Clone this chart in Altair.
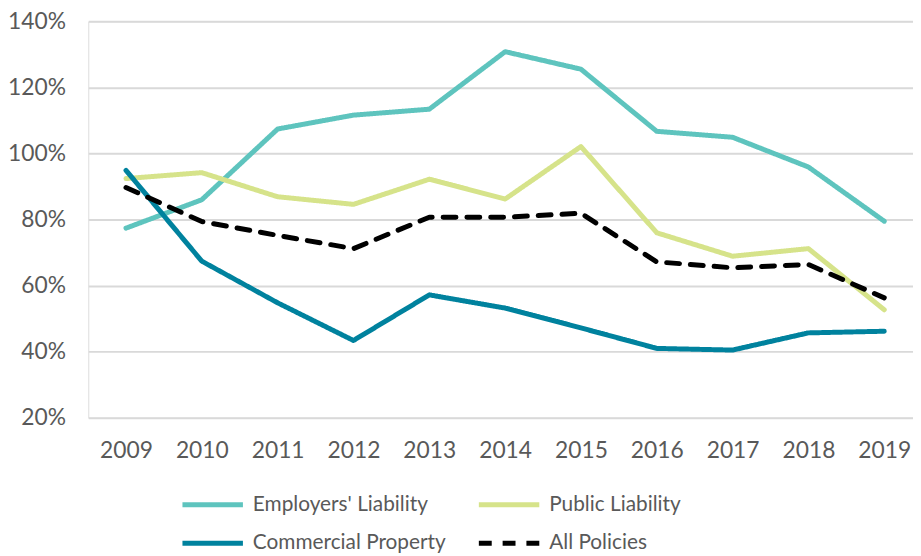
import altair as alt
import pandas as pd

years = [2009, 2010, 2011, 2012, 2013, 2014, 2015, 2016, 2017, 2018, 2019]
series_names = ["Employers' Liability", "Public Liability", "Commercial Property", "All Policies"]
employers = [77.4, 86.0, 107.4, 111.6, 113.4, 130.8, 125.5, 106.7, 104.9, 95.9, 79.5]
public = [92.4, 94.2, 86.9, 84.6, 92.2, 86.2, 102.1, 76.0, 68.9, 71.2, 52.7]
commercial = [94.9, 67.4, 54.8, 43.4, 57.2, 53.2, 47.2, 41.0, 40.5, 45.7, 46.2]
all_policies = [89.7, 79.4, 75.2, 71.2, 80.7, 80.7, 81.9, 67.2, 65.4, 66.4, 56.3]
y_ticks = [0.2, 0.4, 0.6, 0.8, 1.0, 1.2, 1.4]
colors = ["#5EC4BE", "#D6E38A", "#00829E", "#000000"]
dashes = [[1, 0], [1, 0], [1, 0], [13, 11]]

rows = []
for name, vals in zip(series_names, [employers, public, commercial, all_policies]):
    for i, (yr, v) in enumerate(zip(years, vals)):
        rows.append({"year": yr, "value": v / 100.0, "series": name, "order": i})
df = pd.DataFrame(rows)

legend = alt.Legend(
    title=None,
    orient="none",
    direction="horizontal",
    legendX=113,
    legendY=475,
    columns=2,
    columnPadding=23,
    rowPadding=16,
    padding=0,
    symbolType="M-3.05,0H3.05",
    symbolSize=400,
    symbolStrokeWidth=5,
    labelFont="Lato",
    labelFontSize=21,
    labelColor="#595959",
    labelOffset=28,
    labelLimit=400,
)

chart = (
    alt.Chart(df)
    .mark_line(strokeWidth=5, strokeCap="round", strokeJoin="round")
    .encode(
        x=alt.X(
            "year:Q",
            scale=alt.Scale(domain=[2008.503, 2019.379], nice=False, zero=False),
            axis=alt.Axis(
                values=years,
                format="d",
                title=None,
                grid=False,
                domain=False,
                ticks=False,
                labelFont="Lato",
                labelFontSize=23,
                labelColor="#595959",
                labelPadding=22,
                labelFlush=False,
                labelOverlap=False,
            ),
        ),
        y=alt.Y(
            "value:Q",
            scale=alt.Scale(domain=[0.2, 1.4], nice=False, zero=False),
            axis=alt.Axis(
                values=y_ticks,
                format=".0%",
                title=None,
                domain=False,
                ticks=False,
                gridColor="#D9D9D9",
                gridWidth=2,
                labelFont="Lato",
                labelFontSize=23,
                labelColor="#595959",
                labelPadding=23,
            ),
        ),
        color=alt.Color(
            "series:N",
            scale=alt.Scale(domain=series_names, range=colors),
            sort=series_names,
            legend=legend,
        ),
        strokeDash=alt.StrokeDash(
            "series:N",
            scale=alt.Scale(domain=series_names, range=dashes),
            sort=series_names,
            legend=legend,
        ),
        order="order:Q",
    )
    .properties(
        width=832,
        height=400,
        autosize=alt.AutoSizeParams(type="none"),
        padding={"left": 81, "top": 11, "right": 0, "bottom": 137},
    )
    .configure_view(stroke=None)
    .configure(background="#FFFFFF")
)

chart.save("out.html", embed_options={"renderer": "svg", "actions": False})
